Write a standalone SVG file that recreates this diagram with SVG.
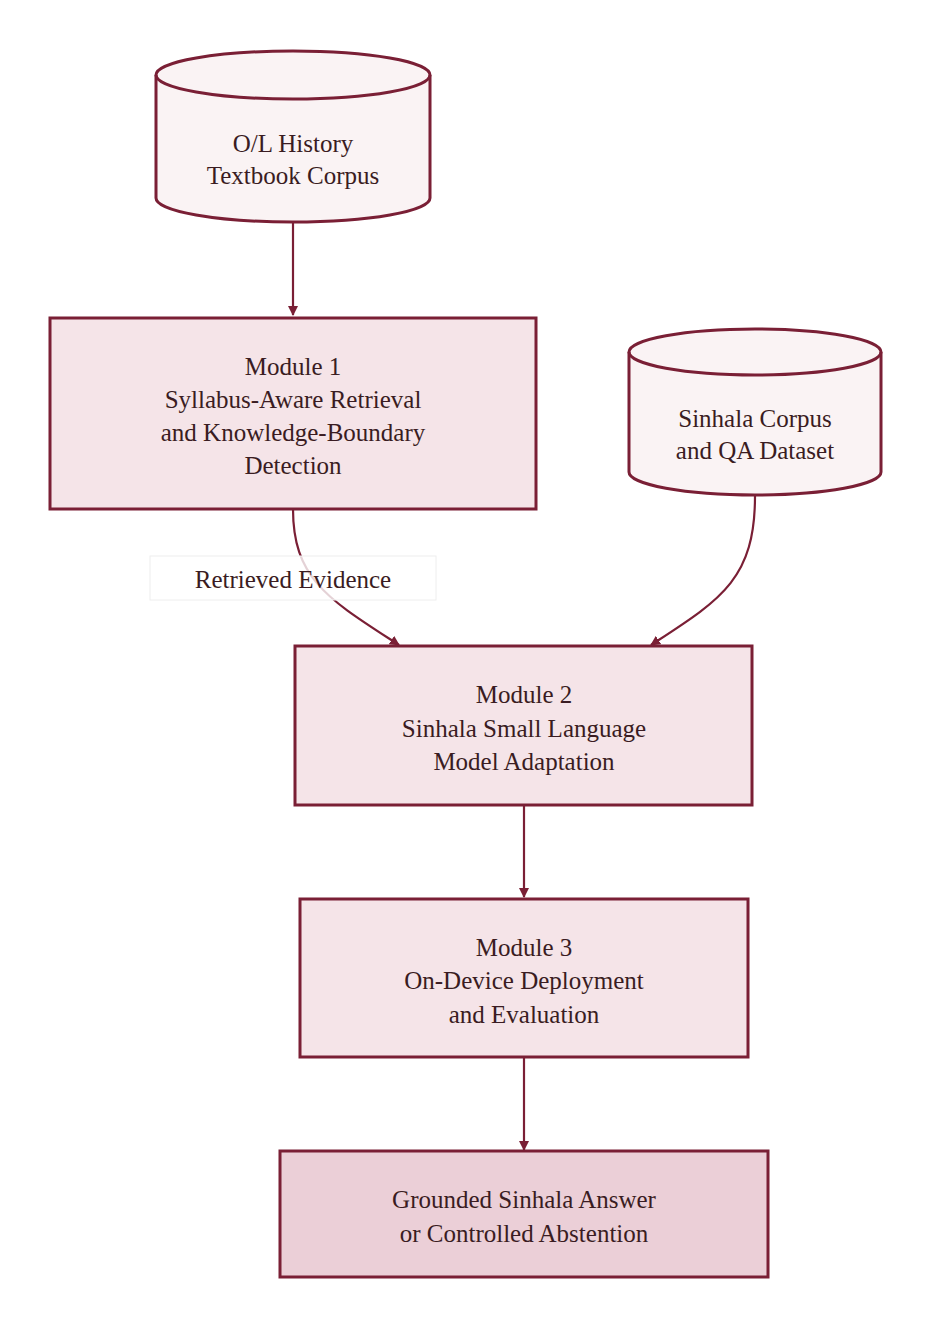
<svg xmlns="http://www.w3.org/2000/svg" width="932" height="1328" viewBox="0 0 932 1328">
<style>
.n{stroke:#7a1f35;stroke-width:3}
.db{fill:#faf3f4}
.m{fill:#f5e4e8}
.o{fill:#ebcfd7}
text{font-family:"Liberation Serif",serif;font-size:25px;fill:#3a1c22;text-anchor:middle}
.e{fill:none;stroke:#7a1f35;stroke-width:2.2}
</style>
<defs><marker id="a" markerWidth="10" markerHeight="10" refX="9" refY="5" orient="auto" markerUnits="userSpaceOnUse" viewBox="0 0 10 10"><path d="M0,0L10,5L0,10z" fill="#7a1f35"/></marker></defs>
<rect width="932" height="1328" fill="#fff"/>
<g id="edges">
<path class="e" d="M293,223V315" marker-end="url(#a)"/>
<path class="e" d="M293,509C293,580 330,600 399,645" marker-end="url(#a)"/>
<path class="e" d="M755,496C755,580 720,600 651,645" marker-end="url(#a)"/>
<path class="e" d="M524,806V897" marker-end="url(#a)"/>
<path class="e" d="M524,1058V1150" marker-end="url(#a)"/>
</g>
<g id="label">
<rect x="150" y="556" width="286" height="44" fill="#fff" fill-opacity="0.8" stroke="#eee"/>
<text x="293" y="588">Retrieved Evidence</text>
</g>
<g id="corpus1">
<path class="n db" d="M156,75A137,24 0 0 1 430,75V198A137,24 0 0 1 156,198Z"/>
<path class="n" fill="none" d="M156,75A137,24 0 0 0 430,75"/>
<text x="293" y="152">O/L History</text><text x="293" y="184">Textbook Corpus</text>
</g>
<g id="corpus2">
<path class="n db" d="M629,352A126,23 0 0 1 881,352V472A126,23 0 0 1 629,472Z"/>
<path class="n" fill="none" d="M629,352A126,23 0 0 0 881,352"/>
<text x="755" y="427">Sinhala Corpus</text><text x="755" y="459">and QA Dataset</text>
</g>
<g id="m1">
<rect class="n m" x="50" y="318" width="486" height="191"/>
<text x="293" y="375">Module 1</text><text x="293" y="408">Syllabus-Aware Retrieval</text><text x="293" y="441">and Knowledge-Boundary</text><text x="293" y="474">Detection</text>
</g>
<g id="m2">
<rect class="n m" x="295" y="646" width="457" height="159"/>
<text x="524" y="703">Module 2</text><text x="524" y="737">Sinhala Small Language</text><text x="524" y="770">Model Adaptation</text>
</g>
<g id="m3">
<rect class="n m" x="300" y="899" width="448" height="158"/>
<text x="524" y="956">Module 3</text><text x="524" y="989">On-Device Deployment</text><text x="524" y="1023">and Evaluation</text>
</g>
<g id="out">
<rect class="n o" x="280" y="1151" width="488" height="126"/>
<text x="524" y="1208">Grounded Sinhala Answer</text><text x="524" y="1242">or Controlled Abstention</text>
</g>
</svg>
